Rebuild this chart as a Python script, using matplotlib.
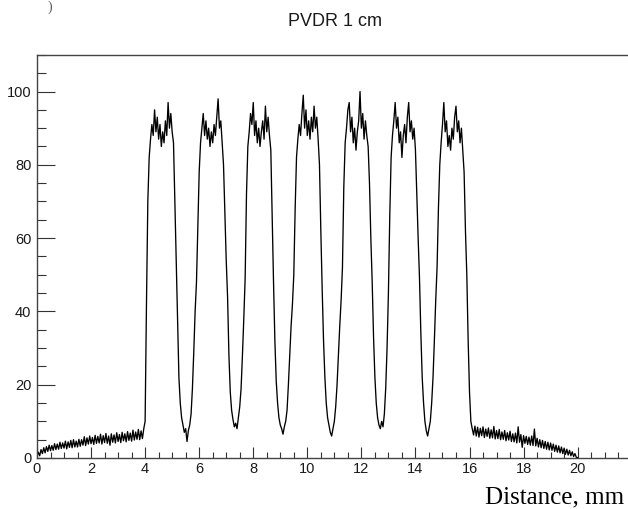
import numpy as np
import matplotlib
matplotlib.use("Agg")
import matplotlib.pyplot as plt
from matplotlib.ticker import MultipleLocator, FixedLocator

# ---- data (bin width 0.05 mm, starting at 0 mm) ----
bin_width = 0.05

dose_0_4 = [0.3, 1.6, 0.6, 2.3, 1.2, 2.8, 1.4, 3.1, 1.8, 3.5,
            2.0, 3.4, 2.1, 3.9, 2.3, 3.8, 2.4, 4.3, 2.6, 4.1,
            2.7, 4.6, 2.5, 4.4, 2.9, 4.8, 2.8, 5.0, 3.0, 4.6,
            3.0, 5.1, 3.2, 5.0, 3.5, 5.8, 3.4, 5.5, 3.8, 6.0,
            3.9, 5.6, 3.7, 6.2, 4.0, 5.9, 4.1, 6.5, 3.8, 6.1,
            4.2, 6.7, 4.0, 6.0, 3.5, 6.6, 4.3, 6.3, 4.1, 6.9,
            4.5, 6.4, 4.2, 7.0, 4.7, 6.6, 4.4, 7.2, 4.8, 6.8,
            4.6, 7.6, 4.9, 7.1, 5.1, 7.8, 5.0, 7.4, 5.3, 8.0]

dose_4_8 = [10, 42, 70, 82, 87, 91, 88, 95, 89, 93,
            87, 91, 85, 89, 86, 92, 88, 97, 90, 94,
            89, 86, 70, 53, 38, 22, 15, 11, 9, 7,
            8, 4.5, 7.5, 9, 12, 19, 29, 40, 48, 63,
            78, 86, 90, 94, 88, 92, 87, 90, 85, 89,
            86, 91, 88, 93, 98, 90, 92, 86, 80, 67,
            54, 44, 28, 18, 13, 10.5, 8.5, 9.5, 8, 11,
            14, 19, 28, 38, 49, 72, 85, 89, 94, 91]

dose_8_12 = [97, 88, 92, 86, 90, 85, 89, 92, 87, 96,
             89, 93, 88, 84, 66, 48, 32, 21, 15, 11,
             9, 8, 6.5, 8.5, 10, 13, 20, 28, 36, 42,
             50, 68, 82, 87, 91, 88, 94, 99, 90, 95,
             88, 92, 87, 93, 89, 96, 90, 93, 87, 80,
             62, 46, 32, 22, 15, 11, 9, 7, 6, 8,
             10, 14, 20, 28, 36, 43, 52, 74, 86, 90,
             95, 97, 89, 93, 86, 90, 84, 89, 92, 100]

dose_12_16 = [90, 94, 87, 92, 88, 85, 75, 60, 48, 33,
              22, 15, 11, 9, 8, 10, 8.5, 12, 19, 30,
              45, 66, 82, 88, 92, 97, 90, 93, 86, 89,
              82, 88, 91, 86, 93, 97, 89, 92, 87, 90,
              84, 72, 60, 49, 34, 22, 15, 10, 7.5, 6,
              8, 10, 15, 22, 32, 43, 52, 68, 80, 86,
              91, 97, 89, 92, 85, 88, 84, 90, 87, 93,
              96, 89, 92, 86, 90, 84, 78, 62, 50, 32]

dose_16_20 = [18, 10, 8, 6.3, 8.7, 6.0, 8.4, 5.7, 8.1, 6.1,
              8.5, 5.6, 7.9, 5.9, 8.2, 5.4, 7.7, 5.5, 8.6, 5.2,
              7.5, 5.3, 7.8, 5.0, 7.1, 5.1, 7.5, 4.7, 6.9, 4.9,
              7.3, 4.5, 6.6, 4.4, 6.8, 4.1, 8.5, 4.3, 6.4, 2.9,
              6.1, 4.0, 5.9, 3.7, 5.7, 3.5, 6.0, 3.4, 7.9, 3.3,
              5.4, 3.0, 5.0, 2.8, 4.8, 2.6, 4.5, 2.4, 4.3, 2.2,
              4.1, 2.1, 3.8, 1.8, 3.5, 1.6, 3.3, 1.4, 3.0, 1.2,
              2.7, 1.0, 2.4, 0.8, 2.1, 0.6, 1.7, 0.4, 1.2, 0.2,
              0.1]

x_ticks = [0, 2, 4, 6, 8, 10, 12, 14, 16, 18, 20]
y_ticks = [0, 20, 40, 60, 80, 100]

dose = np.array(dose_0_4 + dose_4_8 + dose_8_12 + dose_12_16 + dose_16_20)
pos = np.arange(len(dose)) * bin_width

# ---- figure ----
fig = plt.figure(figsize=(6.28, 5.09), dpi=100)
ax = fig.add_axes([0.0589, 0.1002, 0.947, 0.792])

ax.plot(pos, dose, color="black", linewidth=0.95)

ax.set_xlim(0, 22)
ax.set_ylim(0, 110)

ax.xaxis.set_major_locator(FixedLocator(x_ticks))
ax.xaxis.set_minor_locator(MultipleLocator(0.5))
ax.yaxis.set_major_locator(FixedLocator(y_ticks))
ax.yaxis.set_minor_locator(MultipleLocator(5))

ax.tick_params(axis="x", which="major", direction="in", length=8, width=0.8,
               pad=3, labelsize=10.5, colors="#333333")
ax.tick_params(axis="x", which="minor", direction="in", length=4, width=0.8,
               colors="#333333")
ax.tick_params(axis="y", which="major", direction="in", length=13, width=0.8,
               pad=4, labelsize=10.5, colors="#333333")
ax.tick_params(axis="y", which="minor", direction="in", length=6.5, width=0.8,
               colors="#333333")
for lab in ax.get_xticklabels() + ax.get_yticklabels():
    lab.set_family("Liberation Sans")
    lab.set_color("#1a1a1a")

for s in ax.spines.values():
    s.set_linewidth(1.0)
    s.set_color("#444444")

fig.text(0.534, 0.957, "PVDR 1 cm", ha="center", va="center",
         fontsize=13, family="Liberation Sans", color="#1a1a1a")

fig.text(485 / 628, 1 - 503 / 509, "Distance, mm", ha="left", va="baseline",
         fontsize=18, family="Liberation Serif", color="black")

fig.text(48 / 628, 1 - 7 / 509, ")", ha="left", va="center",
         fontsize=10, family="Liberation Serif", color="#555555")

fig.savefig("out.png", dpi=100)
